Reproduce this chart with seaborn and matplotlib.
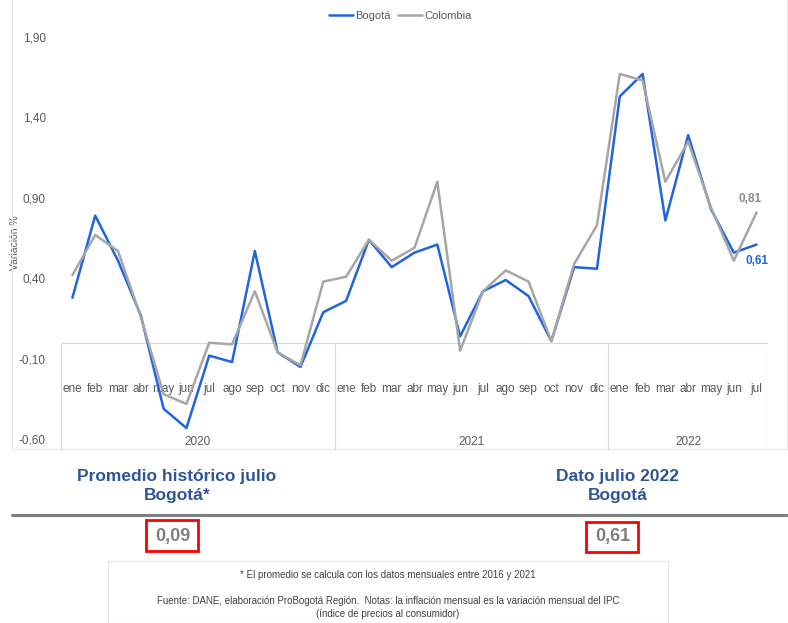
import matplotlib.pyplot as plt
import seaborn as sns
import pandas as pd
from matplotlib.patches import Rectangle
from matplotlib.lines import Line2D

months = ['ene', 'feb', 'mar', 'abr', 'may', 'jun', 'jul', 'ago', 'sep', 'oct', 'nov', 'dic']
years = ['2020', '2021', '2022']
year_counts = [12, 12, 7]

bogota = [0.28, 0.79, 0.51, 0.17, -0.41, -0.53, -0.08, -0.12, 0.57, -0.06, -0.15, 0.19,
          0.26, 0.64, 0.47, 0.56, 0.61, 0.04, 0.32, 0.39, 0.29, 0.01, 0.47, 0.46,
          1.53, 1.67, 0.76, 1.29, 0.83, 0.56, 0.61]
colombia = [0.42, 0.67, 0.57, 0.16, -0.32, -0.38, 0.00, -0.01, 0.32, -0.06, -0.14, 0.38,
            0.41, 0.64, 0.51, 0.59, 1.00, -0.05, 0.32, 0.45, 0.38, 0.01, 0.49, 0.73,
            1.67, 1.63, 1.00, 1.25, 0.84, 0.51, 0.81]
yticks = [-0.60, -0.10, 0.40, 0.90, 1.40, 1.90]

promedio_hist = '0,09'
dato_actual = '0,61'

month_labels = []
for n in year_counts:
    month_labels += months[:n]
n_pts = len(month_labels)

df = pd.DataFrame({
    'idx': list(range(n_pts)) * 2,
    'valor': bogota + colombia,
    'serie': ['Bogotá'] * n_pts + ['Colombia'] * n_pts,
})

sns.set_style('white')
plt.rcParams['font.family'] = ['Liberation Sans', 'DejaVu Sans']

W, H = 788, 623
fx = lambda px: px / W
fy = lambda py: 1 - py / H

fig = plt.figure(figsize=(7.88, 6.23), dpi=100)
ax = fig.add_axes([fx(61), fy(449), (768 - 61) / W, (449 - 12.8) / H])

blue = '#1F64E0'
grey = '#A6A6A6'
txt = '#595959'

sns.lineplot(data=df, x='idx', y='valor', hue='serie',
             palette={'Bogotá': blue, 'Colombia': grey},
             linewidth=1.8, ax=ax, zorder=3)

ax.set_xlim(-0.5, n_pts - 0.5)
ax.set_ylim(-0.66, 2.05)
ax.set_yticks(yticks)
ax.set_yticklabels([f'{v:.2f}'.replace('.', ',') for v in yticks])
ax.tick_params(axis='y', length=0, pad=11, labelsize=8.5, labelcolor=txt)
ax.set_xticks([])
ax.set_xlabel('')
ax.set_ylabel('Variación %', fontsize=7.5, color=txt)
ax.yaxis.set_label_coords((20 - 61) / 707, (449 - 243) / 436)
for s in ax.spines.values():
    s.set_visible(False)

# multi-level category axis (box below the zero line)
box_c = '#D9D9D9'
ax.hlines(0, -0.5, n_pts - 0.5, color=box_c, lw=0.8, zorder=1)
edges = [-0.5]
for n in year_counts:
    edges.append(edges[-1] + n)
ax.vlines(edges, -0.66, 0, color=box_c, lw=0.8, zorder=1)
for i, m in enumerate(month_labels):
    ax.text(i, -0.29, m, ha='center', va='center', fontsize=8.5, color=txt, zorder=1)
for y, a, b in zip(years, edges[:-1], edges[1:]):
    ax.text((a + b) / 2, -0.615, y, ha='center', va='center', fontsize=8.5, color=txt, zorder=1)

# end labels
ax.annotate(f'{colombia[-1]:.2f}'.replace('.', ','), xy=(n_pts - 1, colombia[-1]),
            xytext=(-5, 9.5), textcoords='offset points', ha='center', va='center',
            fontsize=8.5, fontweight='bold', color='#8C8C8C')
ax.annotate(f'{bogota[-1]:.2f}'.replace('.', ','), xy=(n_pts - 1, bogota[-1]),
            xytext=(0, -12), textcoords='offset points', ha='center', va='center',
            fontsize=8.5, fontweight='bold', color=blue)

sns.move_legend(ax, 'center', bbox_to_anchor=(0.48, 0.993), ncol=2, frameon=False,
                title=None, fontsize=8, handlelength=2.2, handletextpad=0.2,
                columnspacing=0.6)
for t in ax.get_legend().get_texts():
    t.set_color(txt)

# chart area border
fig.add_artist(Line2D([fx(12), fx(12), fx(787), fx(787)], [1, fy(449), fy(449), 1],
                      color='#E6E6E6', lw=0.8))

# bottom panel
head_c = '#2F5597'
fig.text(fx(177), fy(486), 'Promedio histórico julio\nBogotá*', ha='center', va='center',
         fontsize=12.5, fontweight='bold', color=head_c, linespacing=1.3)
fig.text(fx(618), fy(486), 'Dato julio 2022\nBogotá', ha='center', va='center',
         fontsize=12.5, fontweight='bold', color=head_c, linespacing=1.3)
fig.add_artist(Line2D([fx(12), fx(787)], [fy(515), fy(515)], color='#7F7F7F', lw=2.2))

fig.add_artist(Rectangle((fx(146), fy(551)), 52 / W, 31 / H, transform=fig.transFigure,
                         fill=False, ec='#FF0000', lw=2))
fig.add_artist(Rectangle((fx(586), fy(552)), 52 / W, 30 / H, transform=fig.transFigure,
                         fill=False, ec='#FF0000', lw=2))
fig.text(fx(173), fy(536), promedio_hist, ha='center', va='center', fontsize=13,
         fontweight='bold', color='#7F7F7F')
fig.text(fx(613), fy(537), dato_actual, ha='center', va='center', fontsize=13,
         fontweight='bold', color='#7F7F7F')

fig.add_artist(Rectangle((fx(108), 0), (668 - 108) / W, (623 - 561) / H,
                         transform=fig.transFigure, fill=False, ec='#E6E6E6', lw=0.8))
note_c = '#404040'
fig.text(fx(388), fy(575), '* El promedio se calcula con los datos mensuales entre 2016 y 2021',
         ha='center', va='center', fontsize=7, color=note_c)
fig.text(fx(388), fy(601), 'Fuente: DANE, elaboración ProBogotá Región.  Notas: la inflación '
         'mensual es la variación mensual del IPC', ha='center', va='center', fontsize=7,
         color=note_c)
fig.text(fx(388), fy(614), '(índice de precios al consumidor)', ha='center', va='center',
         fontsize=7, color=note_c)

fig.savefig('out.png', dpi=100)
